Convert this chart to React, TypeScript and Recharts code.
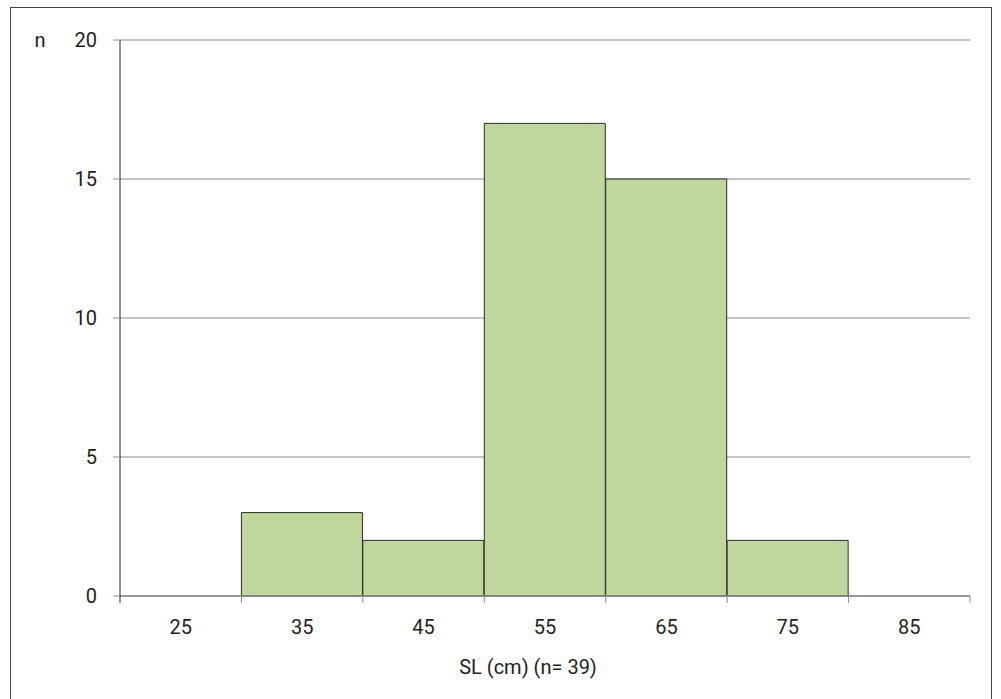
import React from 'react';
import { BarChart, Bar, XAxis, YAxis, CartesianGrid } from 'recharts';

const categories = ['25', '35', '45', '55', '65', '75', '85'];
const counts = [0, 3, 2, 17, 15, 2, 0];
const yTicks = [0, 5, 10, 15, 20];
const xTitle = 'SL (cm) (n= 39)';
const yTitle = 'n';

const data = categories.map((c, i) => ({ bin: c, n: counts[i] }));

const W = 1001;
const H = 699;
const margin = { top: 40, right: 31, bottom: 23, left: 60 };
const yAxisWidth = 60;
const xAxisHeight = 80;
const plotWidth = W - margin.left - margin.right - yAxisWidth;
const band = plotWidth / categories.length;
const FONT = 'Roboto, "Liberation Sans", Arial, sans-serif';
const FS = 20;
const TEXT = '#231f20';
const GRID = '#8a8a8a';

const XTick = (props: any) => {
  const { x, y, payload, index } = props;
  const axisY = y - 7;
  const left = x - band / 2;
  const right = x + band / 2;
  const isLast = index === categories.length - 1;
  return (
    <g>
      <line x1={left} y1={axisY} x2={left} y2={axisY + 7} stroke={index === 0 ? '#222' : GRID} strokeWidth={1} />
      {isLast && <line x1={right} y1={axisY} x2={right} y2={axisY + 7} stroke={GRID} strokeWidth={1} />}
      <text x={x} y={axisY + 38} textAnchor="middle" fontSize={FS} fill={TEXT} fontFamily={FONT}>
        {payload.value}
      </text>
    </g>
  );
};

const XTitle = (props: any) => {
  const vb = props.viewBox;
  return (
    <text x={vb.x + vb.width / 2 - 17} y={vb.y + 78} textAnchor="middle" fontSize={FS} fill={TEXT} fontFamily={FONT}>
      {xTitle}
    </text>
  );
};

const YTitle = (props: any) => {
  const vb = props.viewBox;
  return (
    <text x={vb.x - 20} y={vb.y + 7} textAnchor="middle" fontSize={FS} fill={TEXT} fontFamily={FONT}>
      {yTitle}
    </text>
  );
};

export default function App() {
  return (
    <div style={{ position: 'absolute', left: 0, top: 0, width: W, height: H, background: '#fff', overflow: 'hidden' }}>
      <div
        style={{
          position: 'absolute',
          left: 10,
          top: 7,
          width: 982,
          height: 720,
          border: '1px solid #444',
          boxSizing: 'border-box',
        }}
      />
      <div style={{ position: 'absolute', left: 0, top: 0 }}>
        <BarChart width={W} height={H} data={data} margin={margin} barCategoryGap={0} barGap={0}>
          <CartesianGrid horizontal={true} vertical={false} stroke={GRID} strokeWidth={1} />
          <XAxis
            dataKey="bin"
            height={xAxisHeight}
            axisLine={{ stroke: GRID, strokeWidth: 1.5 }}
            tickLine={false}
            tickSize={7}
            tickMargin={0}
            tick={<XTick />}
            interval={0}
            label={<XTitle />}
          />
          <YAxis
            width={yAxisWidth}
            domain={[0, 20]}
            ticks={yTicks}
            interval={0}
            axisLine={{ stroke: '#222', strokeWidth: 1 }}
            tickLine={{ stroke: GRID, strokeWidth: 1 }}
            tickSize={7}
            tickMargin={16}
            tick={{ fontSize: FS, fill: TEXT, fontFamily: FONT }}
            label={<YTitle />}
          />
          <Bar dataKey="n" fill="#bfd79c" stroke="#2b2b2b" strokeWidth={1} isAnimationActive={false} />
        </BarChart>
      </div>
    </div>
  );
}
